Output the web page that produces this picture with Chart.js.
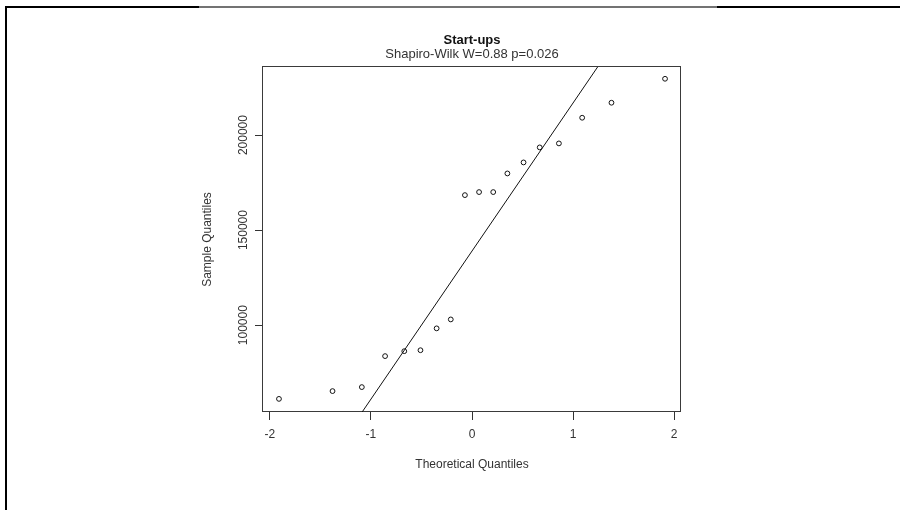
<!DOCTYPE html>
<html>
<head>
<meta charset="utf-8">
<title>Start-ups QQ plot</title>
<script src="https://cdn.jsdelivr.net/npm/chart.js@4.4.1/dist/chart.umd.min.js"></script>
<style>
  html, body { margin: 0; padding: 0; background: #fff; }
  #wrap { position: relative; width: 900px; height: 510px; overflow: hidden; }
  #chart { position: absolute; left: 0; top: 0; }
  .edge { position: absolute; background: #000; }
</style>
</head>
<body>
<div id="wrap">
  <canvas id="chart" width="900" height="510"></canvas>
  <div class="edge" style="left:5px;top:6px;width:194px;height:2px"></div>
  <div class="edge" style="left:199px;top:6px;width:518px;height:2px;background:rgba(0,0,0,0.55)"></div>
  <div class="edge" style="left:717px;top:6px;width:183px;height:2px"></div>
  <div class="edge" style="left:5px;top:6px;width:2px;height:504px"></div>
</div>
<script>
// values
const theoretical = [-1.91, -1.38, -1.09, -0.86, -0.67, -0.51, -0.35, -0.21, -0.07,
                     0.07, 0.21, 0.35, 0.51, 0.67, 0.86, 1.09, 1.38, 1.91];
const sample = [61200, 65300, 67400, 83700, 86300, 86800, 98300, 103000, 168400,
                170000, 170000, 179800, 185600, 193500, 195600, 209100, 217000, 229600];
const xTicks = [-2, -1, 0, 1, 2];
const yTicks = [100000, 150000, 200000];
const xRange = [-2.068, 2.068];
const yRange = [54300, 235800];
const normQuartiles = [-0.6745, 0.6745];

const titleText = "Start-ups";
const subtitleText = "Shapiro-Wilk W=0.88 p=0.026";
const xTitle = "Theoretical Quantiles";
const yTitle = "Sample Quantiles";

const FONT = "'Liberation Sans', Arial, sans-serif";
const TEXT = "#333";

// qqline: through the sample quartiles (type 7) vs normal quartiles
function quantile(values, p) {
    const s = [...values].sort((a, b) => a - b);
    const h = (s.length - 1) * p;
    const lo = Math.floor(h);
    return s[lo] + (h - lo) * ((s[lo + 1] ?? s[lo]) - s[lo]);
}
const q1 = quantile(sample, 0.25);
const q3 = quantile(sample, 0.75);
const slope = (q3 - q1) / (normQuartiles[1] - normQuartiles[0]);
const intercept = q1 - slope * normQuartiles[0];

const frameBox = {
    id: "frameBox",
    beforeDatasetsDraw(chart) {
        const { ctx, chartArea: a } = chart;
        ctx.save();
        ctx.strokeStyle = "#3a3a3a";
        ctx.lineWidth = 1;
        ctx.strokeRect(Math.round(a.left) - 0.5, Math.round(a.top) - 0.5,
            Math.round(a.right - a.left), Math.round(a.bottom - a.top));
        ctx.restore();
    },
};

const tickGrid = { drawOnChartArea: false, drawTicks: true, tickLength: 8, tickColor: "#333", tickWidth: 1 };

new Chart(document.getElementById("chart").getContext("2d"), {
    type: "scatter",
    data: {
        datasets: [
            {
                label: "qqline",
                data: xRange.map((x) => ({ x, y: intercept + slope * x })),
                showLine: true,
                borderColor: "#111",
                borderWidth: 1,
                pointRadius: 0,
            },
            {
                label: "sample",
                data: theoretical.map((x, i) => ({ x, y: sample[i] })),
                showLine: false,
                pointRadius: 2.4,
                pointBorderWidth: 1,
                pointBorderColor: "#111",
                pointBackgroundColor: "rgba(0,0,0,0)",
            },
        ],
    },
    options: {
        responsive: false,
        animation: false,
        events: [],
        layout: { padding: { left: 195, right: 219, top: 0, bottom: 30 } },
        plugins: {
            legend: { display: false },
            tooltip: { enabled: false },
            title: {
                display: true,
                text: titleText,
                fullSize: false,
                color: "#111",
                font: { family: FONT, size: 13, weight: "bold", lineHeight: 1 },
                padding: { top: 33.5, bottom: 1.5 },
            },
            subtitle: {
                display: true,
                text: subtitleText,
                fullSize: false,
                color: TEXT,
                font: { family: FONT, size: 13, lineHeight: 1 },
                padding: { top: 0, bottom: 6 },
            },
        },
        scales: {
            x: {
                type: "linear",
                position: "bottom",
                min: xRange[0],
                max: xRange[1],
                afterBuildTicks: (s) => { s.ticks = xTicks.map((v) => ({ value: v })); },
                afterFit: (s) => { s.height = 68; },
                ticks: {
                    callback: (v) => String(v),
                    color: TEXT,
                    font: { family: FONT, size: 12 },
                    padding: 7,
                    maxRotation: 0,
                    autoSkip: false,
                },
                grid: tickGrid,
                border: { display: false },
                title: {
                    display: true,
                    text: xTitle,
                    color: TEXT,
                    font: { family: FONT, size: 12 },
                    padding: { top: 0, bottom: 7.8 },
                },
            },
            y: {
                type: "linear",
                position: "left",
                min: yRange[0],
                max: yRange[1],
                afterBuildTicks: (s) => { s.ticks = yTicks.map((v) => ({ value: v })); },
                afterFit: (s) => { s.width = 68; },
                ticks: {
                    callback: (v) => String(v),
                    color: TEXT,
                    font: { family: FONT, size: 12 },
                    minRotation: 90,
                    maxRotation: 90,
                    crossAlign: "center",
                    padding: -8.5,
                    autoSkip: false,
                },
                grid: tickGrid,
                border: { display: false },
                title: {
                    display: true,
                    text: yTitle,
                    color: TEXT,
                    font: { family: FONT, size: 12 },
                    padding: { top: 5.8, bottom: 0 },
                },
            },
        },
    },
    plugins: [frameBox],
});
</script>
</body>
</html>
